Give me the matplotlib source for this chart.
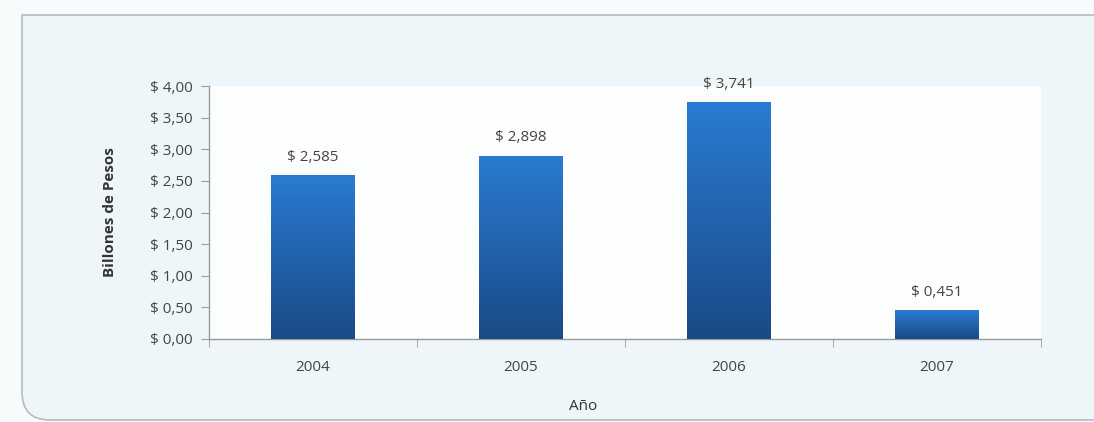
import numpy as np
import matplotlib
matplotlib.use("Agg")
import matplotlib.pyplot as plt
from matplotlib.patches import PathPatch
from matplotlib.path import Path
from matplotlib.transforms import Affine2D
from matplotlib.colors import LinearSegmentedColormap

# Data
years = ["2004", "2005", "2006", "2007"]
values = [2.585, 2.898, 3.741, 0.451]
value_labels = ["$ 2,585", "$ 2,898", "$ 3,741", "$ 0,451"]
yticks = [0.0, 0.5, 1.0, 1.5, 2.0, 2.5, 3.0, 3.5, 4.0]
ytick_labels = ["$ 0,00", "$ 0,50", "$ 1,00", "$ 1,50", "$ 2,00",
                "$ 2,50", "$ 3,00", "$ 3,50", "$ 4,00"]

TXT = "#444444"
AXIS = "#9a9a9a"
PANEL = "#eef6f9"
BORDER = "#b4bcc0"
W, H = 1094, 422

plt.rcParams["font.family"] = ["Open Sans", "DejaVu Sans"]

fig = plt.figure(figsize=(W / 100, H / 100), dpi=100)
fig.patch.set_facecolor("#f7fbfc")

# panel: square top-left corner, rounded bottom-left corner (pixel coords)
px = Affine2D().scale(1 / W, 1 / H) + fig.transFigure
r = 28
top, left, bot = H - 15, 22, 2
verts = [(W + 5, top), (left, top), (left, bot + r), (left, bot),
         (left + r, bot), (W + 5, bot), (W + 5, top)]
codes = [Path.MOVETO, Path.LINETO, Path.LINETO, Path.CURVE3,
         Path.CURVE3, Path.LINETO, Path.CLOSEPOLY]
panel = PathPatch(Path(verts, codes), transform=px, facecolor=PANEL,
                  edgecolor=BORDER, linewidth=1.2, zorder=-1)
fig.patches.append(panel)

ax = fig.add_axes([209 / W, 83 / H, 832 / W, 253 / H])
ax.set_facecolor("#fcfefe")

x = np.arange(len(years))
bars = ax.bar(x, values, width=0.4, color="#1f64b0", zorder=2)

# vertical gradient inside each bar
cmap = LinearSegmentedColormap.from_list("bar", ["#1a4a86", "#2a7bd2"])
grad = np.linspace(0, 1, 256).reshape(-1, 1)
for b in bars:
    x0, w, h = b.get_x(), b.get_width(), b.get_height()
    im = ax.imshow(grad, cmap=cmap, origin="lower", aspect="auto",
                   extent=(x0, x0 + w, 0, h), zorder=3)
    im.set_clip_path(b)

for xi, v, lab in zip(x, values, value_labels):
    ax.text(xi, v + 0.17, lab, ha="center", va="bottom",
            fontsize=11, color=TXT, zorder=4)

ax.set_xlim(-0.5, len(years) - 0.5)
ax.set_ylim(0, 4)
ax.set_yticks(yticks)
ax.set_yticklabels(ytick_labels, fontsize=11, color=TXT)

# category labels centred, tick marks on the boundaries
ax.set_xticks(x)
ax.set_xticklabels(years, fontsize=11, color=TXT)
ax.tick_params(axis="x", length=0, pad=15)
ax.set_xticks(np.arange(-0.5, len(years)), minor=True)
ax.tick_params(axis="x", which="minor", length=6, color=AXIS, direction="out")
ax.tick_params(axis="y", length=6, color=AXIS, pad=6)

for s in ["top", "right"]:
    ax.spines[s].set_visible(False)
for s in ["left", "bottom"]:
    ax.spines[s].set_color(AXIS)
    ax.spines[s].set_linewidth(1.0)

ax.set_ylabel("Billones de Pesos", fontsize=11, fontweight="bold",
              color="#333333")
ax.yaxis.set_label_coords(-0.111, 0.5)
ax.set_xlabel("Año", fontsize=11, color="#333333")
ax.xaxis.set_label_coords(0.45, -0.236)

fig.savefig("out.png", dpi=100, facecolor=fig.get_facecolor())
